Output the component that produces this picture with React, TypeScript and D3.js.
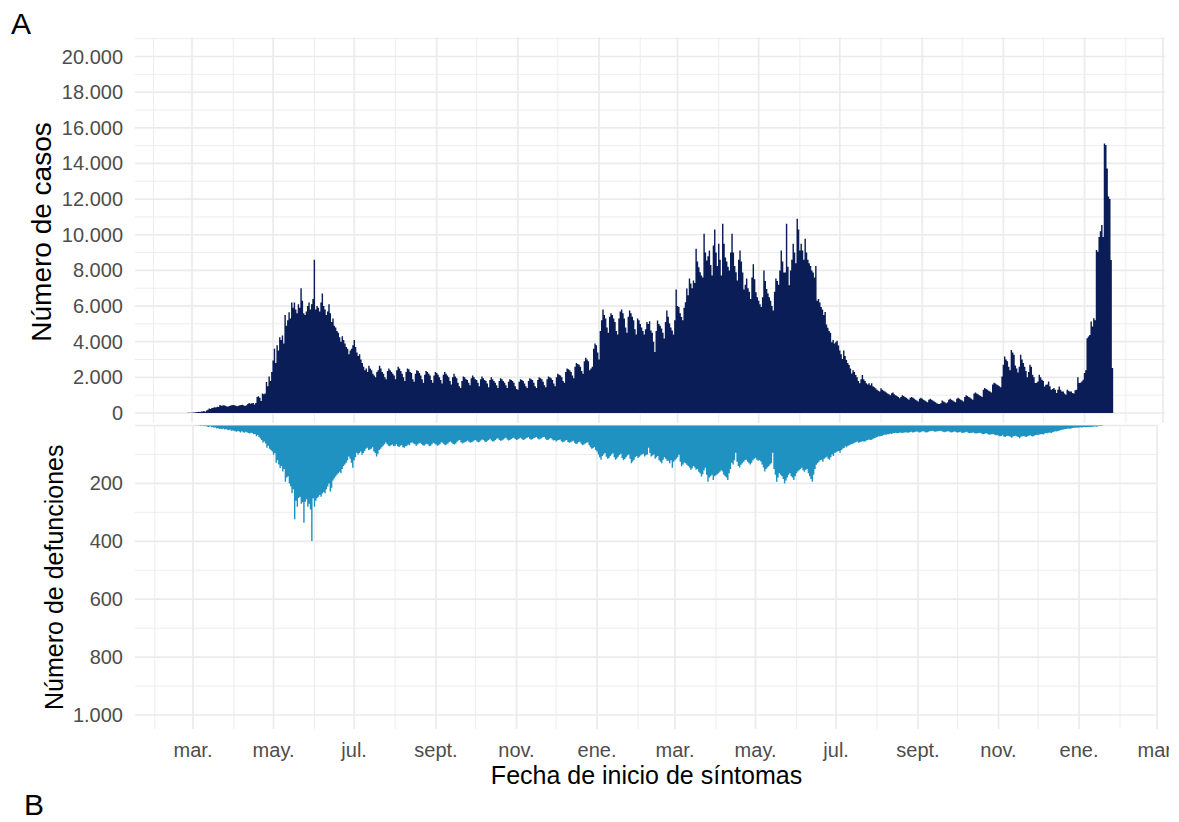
import * as d3 from "d3";

// Casos diarios por fecha de inicio de síntomas, una fila por mes (la primera empieza el 23 de febrero de 2020)
const casos2020: number[][] = [
  [2, 3, 5, 6, 10, 12, 18],
  [20, 25, 30, 45, 55, 70, 60, 80, 90, 110, 70, 140, 180, 250, 220, 280, 300, 320, 310, 350, 330, 450, 400, 420, 430, 410, 380, 350, 390, 420, 440],
  [450, 430, 410, 380, 400, 430, 450, 460, 420, 390, 430, 500, 560, 520, 540, 560, 480, 560, 900, 940, 850, 680, 1100, 1050, 1100, 1740, 1500, 2050, 1800, 2300],
  [2950, 3600, 2800, 3800, 3500, 4250, 4100, 4350, 3900, 5500, 4900, 5200, 5650, 5300, 6200, 5900, 6200, 5800, 5600, 6100, 5900, 7000, 6300, 5600, 5500, 5700, 6000, 6200, 5800, 6100, 6400],
  [8600, 5800, 6000, 5900, 5700, 6200, 6700, 6000, 5800, 5500, 5700, 6100, 5600, 5100, 5300, 4900, 4800, 4600, 4500, 4250, 4000, 4300, 4100, 3900, 3700, 3600, 3300, 3500, 3600, 3800],
  [4100, 3700, 3400, 3200, 3300, 3000, 2800, 2600, 2400, 2500, 2300, 2650, 2500, 2400, 2200, 2100, 2000, 2300, 2400, 2650, 2500, 2300, 2200, 2000, 1900, 2350, 2500, 2400, 2300, 2200, 2100],
  [1900, 2400, 2600, 2500, 2350, 2200, 2000, 1800, 2300, 2500, 2450, 2300, 2250, 1900, 1750, 2200, 2400, 2350, 2250, 2100, 1900, 1700, 2150, 2350, 2300, 2200, 2100, 1850, 1700, 2100, 2300],
  [2250, 2150, 2000, 1850, 1650, 2150, 2300, 2200, 2100, 2000, 1800, 1600, 2000, 2200, 2050, 1950, 1700, 1500, 1400, 1800, 2050, 2000, 1900, 1850, 1700, 1550, 1950, 2100, 2000, 1900],
  [1850, 1700, 1500, 1900, 2050, 1950, 1850, 1800, 1650, 1450, 1850, 2000, 1900, 1800, 1700, 1550, 1400, 1800, 1950, 1900, 1800, 1700, 1550, 1400, 1750, 1900, 1850, 1800, 1700, 1500, 1350],
  [1300, 1750, 1900, 1850, 1800, 1650, 1500, 1400, 1800, 1950, 1900, 1850, 1700, 1500, 1400, 1850, 2000, 1950, 1900, 1750, 1550, 1450, 1900, 2050, 2000, 1950, 1850, 1650, 1500, 2000],
  [2200, 2150, 2100, 2000, 1800, 1700, 2300, 2500, 2450, 2400, 2300, 2100, 1950, 2600, 2800, 2750, 2700, 2600, 2350, 2200, 2900, 3100, 3000, 2900, 2400, 2500, 2600, 3600, 3900, 3800, 3400],
];
const casos2021: number[][] = [
  [3000, 4600, 5200, 5800, 5500, 5300, 4800, 4500, 5400, 5600, 5500, 5300, 5100, 4600, 4400, 5300, 5700, 5800, 5600, 5300, 4800, 4500, 5400, 5750, 5600, 5400, 5200, 4700, 4400, 5300, 5200],
  [5000, 4800, 4600, 4400, 4700, 5100, 5000, 5150, 4630, 4500, 4000, 3420, 4600, 5190, 5000, 4900, 4740, 4500, 4180, 5100, 5750, 5400, 5020, 4800, 4630, 4400, 5200, 6930],
  [6000, 5940, 5600, 5390, 5200, 5900, 6220, 6980, 6600, 7540, 7260, 7000, 7430, 7300, 9220, 8500, 8180, 7900, 7710, 7600, 10060, 9000, 8550, 8800, 9110, 8300, 7710, 9400, 10290, 9000, 8250],
  [9500, 8600, 7710, 10620, 9500, 8720, 8500, 8200, 8000, 9000, 10060, 9000, 8250, 7900, 7430, 8600, 9110, 8500, 7880, 6930, 7200, 7540, 7000, 6800, 6400, 7600, 8350, 7500, 6770, 6500],
  [6300, 6100, 5940, 6500, 8000, 7400, 6960, 6700, 6500, 6300, 6000, 5750, 6800, 7540, 7400, 7200, 8000, 9110, 8500, 7880, 7880, 10620, 8200, 7160, 8000, 8600, 9500, 9000, 8400, 10900, 10290],
  [9110, 9500, 9110, 8600, 9780, 9000, 8600, 8400, 8250, 8000, 7880, 7600, 8250, 6300, 6400, 6200, 5940, 5800, 5500, 5670, 4970, 4780, 4600, 4500, 3970, 4100, 3900, 3970, 4060, 3780],
  [3500, 3300, 3030, 3500, 3200, 2970, 2800, 2690, 2500, 2220, 2400, 2300, 2130, 2000, 1800, 1670, 1900, 2130, 1900, 1800, 1670, 1600, 1670, 1550, 1670, 1500, 1450, 1390, 1300, 1250, 1200],
  [1390, 1300, 1250, 1200, 1150, 1100, 1050, 1000, 1110, 1150, 1050, 1000, 950, 900, 830, 900, 1000, 950, 900, 850, 800, 750, 850, 900, 850, 800, 750, 700, 650, 800, 850],
  [800, 750, 700, 650, 600, 750, 800, 750, 700, 650, 600, 550, 500, 500, 550, 700, 650, 600, 550, 600, 750, 800, 750, 700, 650, 600, 800, 850, 800, 750],
  [700, 650, 900, 1000, 950, 900, 850, 800, 750, 1100, 1150, 1100, 1050, 1000, 950, 900, 1300, 1400, 1350, 1300, 1250, 1200, 1150, 1600, 1700, 1650, 1600, 1550, 1500, 1450, 2050],
  [2700, 3170, 3000, 2900, 2600, 2400, 3540, 3400, 3270, 2660, 2500, 2270, 2600, 3270, 3000, 2810, 2600, 2360, 2000, 2300, 2700, 2600, 2150, 2000, 1680, 1700, 1770, 2150, 2000, 1860],
  [1800, 1490, 1590, 1600, 1770, 1500, 1310, 1350, 1400, 1300, 1120, 1300, 1490, 1300, 1210, 1210, 1100, 1020, 1310, 1250, 1210, 1200, 1120, 1100, 1270, 1300, 2000, 1680, 1700, 1770, 1860],
];
const casos2022: number[][] = [
  [2240, 2400, 4200, 4290, 4380, 5130, 4850, 5320, 5200, 9150, 9050, 9880, 10200, 10540, 9880, 15120, 15030, 13720, 12140, 12000, 8580, 2520],
];

// Defunciones diarias, una fila por mes (desde marzo de 2020)
const defunciones2020: number[][] = [
  [0, 0, 1, 0, 1, 1, 2, 1, 2, 3, 2, 4, 5, 3, 6, 5, 8, 7, 10, 9, 12, 11, 13, 10, 14, 12, 15, 16, 14, 18, 17],
  [18, 20, 22, 19, 21, 24, 20, 23, 25, 22, 24, 26, 28, 25, 27, 30, 29, 37, 33, 40, 45, 50, 59, 55, 62, 77, 70, 80, 85, 90],
  [101, 95, 129, 120, 135, 147, 140, 159, 150, 194, 180, 175, 200, 210, 234, 220, 324, 260, 281, 250, 246, 270, 265, 336, 263, 255, 281, 270, 290, 399, 251],
  [281, 260, 250, 246, 240, 246, 235, 230, 234, 220, 211, 200, 228, 215, 190, 182, 176, 170, 165, 160, 165, 150, 140, 135, 129, 120, 107, 115, 129, 146],
  [120, 110, 94, 100, 95, 90, 101, 95, 88, 80, 77, 85, 83, 80, 75, 90, 95, 107, 98, 85, 80, 75, 70, 65, 59, 65, 70, 72, 68, 66, 72],
  [70, 65, 72, 74, 70, 68, 75, 77, 72, 70, 66, 68, 60, 59, 62, 65, 70, 66, 62, 60, 64, 68, 70, 66, 63, 66, 72, 70, 65, 60, 62],
  [66, 70, 68, 64, 58, 60, 65, 68, 66, 62, 58, 55, 60, 64, 66, 62, 56, 52, 50, 58, 62, 60, 57, 55, 52, 56, 60, 58, 55, 52],
  [50, 55, 58, 56, 52, 48, 50, 55, 57, 53, 50, 46, 52, 55, 54, 50, 46, 44, 50, 53, 52, 48, 45, 42, 48, 52, 50, 47, 44, 42, 47],
  [50, 48, 45, 42, 46, 50, 48, 45, 42, 40, 46, 49, 47, 44, 42, 40, 45, 48, 46, 44, 41, 40, 46, 50, 49, 46, 43, 48, 52, 50],
  [55, 52, 50, 48, 54, 58, 56, 52, 50, 57, 60, 58, 55, 53, 60, 64, 62, 58, 56, 63, 68, 66, 62, 60, 58, 68, 75, 80, 78, 74, 85],
];
const defunciones2021: number[][] = [
  [90, 100, 110, 118, 105, 100, 95, 108, 115, 112, 105, 100, 96, 110, 118, 114, 108, 102, 98, 112, 120, 116, 110, 104, 100, 115, 130, 124, 118, 110, 105],
  [112, 108, 104, 100, 98, 107, 103, 100, 77, 95, 107, 104, 100, 115, 110, 105, 120, 125, 130, 118, 110, 115, 122, 122, 130, 120, 146, 125],
  [120, 115, 110, 101, 125, 141, 135, 128, 130, 136, 140, 145, 153, 148, 140, 145, 153, 150, 160, 165, 176, 168, 155, 146, 170, 194, 180, 175, 170, 188, 175],
  [172, 168, 165, 160, 155, 159, 170, 175, 180, 188, 165, 150, 129, 135, 120, 94, 125, 140, 145, 136, 130, 125, 120, 118, 125, 130, 135, 129, 120, 115],
  [111, 118, 122, 120, 124, 135, 145, 159, 150, 145, 141, 135, 130, 94, 150, 170, 194, 180, 165, 170, 175, 185, 200, 190, 180, 170, 165, 175, 180, 188, 175],
  [165, 159, 155, 150, 146, 155, 160, 153, 150, 165, 175, 185, 194, 170, 150, 136, 130, 125, 120, 118, 125, 115, 111, 108, 115, 118, 110, 100, 105, 95],
  [92, 90, 88, 94, 85, 80, 78, 72, 75, 70, 68, 66, 64, 62, 60, 58, 55, 60, 58, 56, 54, 55, 55, 52, 50, 48, 50, 49, 46, 44, 42],
  [40, 37, 38, 36, 35, 33, 31, 32, 30, 30, 28, 29, 27, 26, 25, 27, 26, 25, 24, 26, 25, 24, 23, 25, 24, 23, 22, 24, 23, 22, 21],
  [22, 24, 23, 21, 20, 22, 24, 23, 22, 20, 19, 18, 20, 22, 21, 20, 19, 18, 20, 22, 23, 22, 21, 20, 22, 24, 23, 22, 21, 23],
  [24, 23, 22, 25, 26, 24, 23, 22, 25, 27, 26, 25, 24, 27, 28, 27, 26, 25, 28, 30, 29, 28, 27, 30, 32, 31, 30, 29, 32, 34, 33],
  [35, 37, 36, 34, 38, 40, 36, 35, 37, 39, 42, 38, 36, 35, 38, 40, 44, 39, 37, 36, 38, 40, 37, 35, 34, 36, 38, 35, 33, 32],
  [33, 31, 30, 29, 31, 28, 26, 27, 25, 24, 26, 23, 22, 20, 21, 19, 17, 16, 15, 14, 13, 12, 11, 10, 11, 10, 9, 8, 8, 7, 8],
];
const defunciones2022: number[][] = [
  [7, 6, 7, 6, 5, 6, 5, 5, 4, 5, 4, 4, 3, 4, 3, 3, 2, 2, 1],
];

const ticksCasos = [0, 2000, 4000, 6000, 8000, 10000, 12000, 14000, 16000, 18000, 20000];
const ticksDefunciones = [200, 400, 600, 800, 1000];
const nombresMes = ["ene.", "feb.", "mar.", "abr.", "may.", "jun.", "jul.", "ago.", "sept.", "oct.", "nov.", "dic."];

interface Punto { fecha: Date; valor: number }

function expandir(anio: number, mes0: number, dia0: number, filas: number[][]): Punto[] {
  const out: Punto[] = [];
  filas.forEach((fila, k) => {
    fila.forEach((v, i) => {
      out.push({ fecha: new Date(Date.UTC(anio, mes0 + k, (k === 0 ? dia0 : 1) + i)), valor: v });
    });
  });
  return out;
}

const casos = [
  ...expandir(2020, 1, 23, casos2020),
  ...expandir(2021, 0, 1, casos2021),
  ...expandir(2022, 0, 1, casos2022),
];
const defunciones = [
  ...expandir(2020, 2, 1, defunciones2020),
  ...expandir(2021, 0, 1, defunciones2021),
  ...expandir(2022, 0, 1, defunciones2022),
];

const fmt = (v: number) => d3.format(",")(v).replace(/,/g, ".");

const W = 1179, H = 822;
const left = 135;
const top1 = 37.5, bottom1 = 423, right1 = 1165;
const top2 = 425.5, bottom2 = 729, right2 = 1158;
const navy = "#0a1d56";
const celeste = "#1f92c1";
const grid = "#ebebeb";
const font = "'Liberation Sans', Arial, Helvetica, sans-serif";

// todas las barras de una serie en un solo path, para que no queden costuras entre barras vecinas
function barras(datos: Punto[], x: (d: Date) => number, y: (v: number) => number, ancho: number) {
  const p = d3.path();
  datos.forEach((d) => {
    const cx = x(d.fecha);
    const y0 = y(0), y1 = y(d.valor);
    p.rect(cx - ancho / 2, Math.min(y0, y1), ancho, Math.abs(y1 - y0));
  });
  return p.toString();
}

export default function App() {
  const xTop = d3.scaleUtc().domain([new Date(Date.UTC(2020, 2, 1)), new Date(Date.UTC(2022, 2, 1))]).range([192, 1163]);
  const xBot = d3.scaleUtc().domain([new Date(Date.UTC(2020, 2, 1)), new Date(Date.UTC(2022, 2, 1))]).range([193, 1157]);
  const yTop = d3.scaleLinear().domain([0, 20000]).range([413, 56.5]);
  const yBot = d3.scaleLinear().domain([0, 1000]).range([top2, 715]);

  const meses = d3.utcMonth.range(new Date(Date.UTC(2020, 0, 1)), new Date(Date.UTC(2022, 2, 2)));
  const wTop = xTop(new Date(Date.UTC(2020, 2, 2))) - xTop(new Date(Date.UTC(2020, 2, 1))) + 0.1;
  const wBot = xBot(new Date(Date.UTC(2020, 2, 2))) - xBot(new Date(Date.UTC(2020, 2, 1))) + 0.1;

  const minoresTop = d3.range(1000, 22000, 2000).filter((v) => yTop(v) >= top1 - 0.5);
  const minoresBot = d3.range(100, 1000, 200);

  return (
    <svg width={W} height={H} style={{ position: "absolute", left: 0, top: 0, background: "#fff" }} fontFamily={font}>
      <defs>
        <clipPath id="recorte"><rect x={0} y={0} width={1169} height={H} /></clipPath>
      </defs>
      <g clipPath="url(#recorte)">
        {/* panel A: casos */}
        {minoresTop.map((v) => (
          <line key={"mt" + v} x1={left} x2={right1} y1={yTop(v)} y2={yTop(v)} stroke={grid} strokeWidth={0.9} />
        ))}
        {ticksCasos.map((v) => (
          <line key={"Mt" + v} x1={left} x2={right1} y1={yTop(v)} y2={yTop(v)} stroke={grid} strokeWidth={1.7} />
        ))}
        {meses.filter((m) => xTop(m) >= left && xTop(m) <= right1).map((m) => (
          <line key={"vt" + +m} x1={xTop(m)} x2={xTop(m)} y1={top1} y2={bottom1} stroke={grid}
            strokeWidth={m.getUTCMonth() % 2 === 0 ? 1.7 : 0.9} />
        ))}
        <path d={barras(casos, xTop, yTop, wTop)} fill={navy} />

        {/* panel: defunciones */}
        {minoresBot.map((v) => (
          <line key={"mb" + v} x1={left} x2={right2} y1={yBot(v)} y2={yBot(v)} stroke={grid} strokeWidth={0.9} />
        ))}
        {[0, ...ticksDefunciones].map((v) => (
          <line key={"Mb" + v} x1={left} x2={right2} y1={yBot(v)} y2={yBot(v)} stroke={grid} strokeWidth={1.7} />
        ))}
        {meses.filter((m) => xBot(m) >= left && xBot(m) <= right2).map((m) => (
          <line key={"vb" + +m} x1={xBot(m)} x2={xBot(m)} y1={top2} y2={bottom2} stroke={grid}
            strokeWidth={m.getUTCMonth() % 2 === 0 ? 1.7 : 0.9} />
        ))}
        <path d={barras(defunciones, xBot, yBot, wBot)} fill={celeste} />

        {/* etiquetas de ejes */}
        {ticksCasos.map((v) => (
          <text key={"lt" + v} x={123} y={yTop(v)} dy="0.35em" textAnchor="end" fontSize={20} fill="#4d4d4d">{fmt(v)}</text>
        ))}
        {ticksDefunciones.map((v) => (
          <text key={"lb" + v} x={123} y={yBot(v)} dy="0.35em" textAnchor="end" fontSize={20} fill="#4d4d4d">{fmt(v)}</text>
        ))}
        {meses.filter((m) => m.getUTCMonth() % 2 === 0 && xBot(m) >= left).map((m) => (
          <text key={"lx" + +m} x={xBot(m)} y={757} textAnchor="middle" fontSize={20} fill="#4d4d4d">
            {nombresMes[m.getUTCMonth()]}
          </text>
        ))}
        <text x={(left + right2) / 2} y={783.5} textAnchor="middle" fontSize={25} fill="#000">Fecha de inicio de síntomas</text>
        <text transform={`translate(51,232) rotate(-90)`} textAnchor="middle" fontSize={28} fill="#000">Número de casos</text>
        <text transform={`translate(63,${(top2 + bottom2) / 2}) rotate(-90)`} textAnchor="middle" fontSize={25} fill="#000">Número de defunciones</text>
        <text x={11} y={33.5} fontSize={30} fill="#000">A</text>
        <text x={24} y={815} fontSize={30} fill="#000">B</text>
      </g>
    </svg>
  );
}
